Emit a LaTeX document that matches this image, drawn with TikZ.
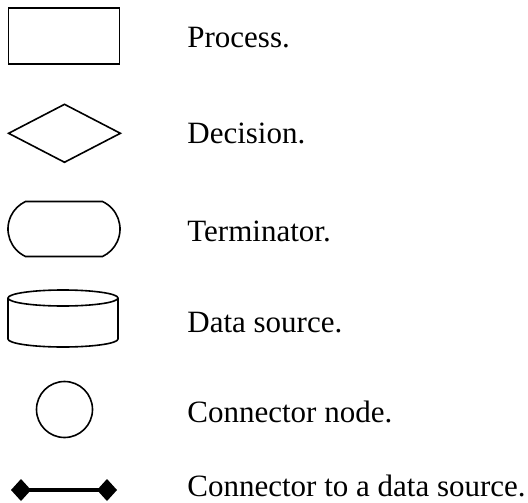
\documentclass[tikz,border=0pt]{standalone}
\usepackage{fontspec}
\setmainfont{Liberation Serif}
\usetikzlibrary{shapes.geometric,shapes.misc,arrows.meta}
\begin{document}
\begin{tikzpicture}
[x=0.5pt,y=-0.5pt,%
 shapestyle/.style={draw,line width=0.8pt,inner sep=0pt},%
 labelstyle/.style={anchor=base west,inner sep=0pt,font=\fontsize{15.5}{18}\selectfont},%
 linkstyle/.style={line width=2pt,{Diamond[length=10pt,width=11pt]}-{Diamond[length=10pt,width=11pt]}}]
\useasboundingbox (0,0) rectangle (528,502);
%% process
\node[shapestyle,rectangle,minimum width=55.5pt,minimum height=28pt] (process) at (64,36) {};
\node[labelstyle] (processtext) at (187,48) {Process.};
%% decision
\node[shapestyle,diamond,minimum width=56.2pt,minimum height=29.3pt] (decision) at (64.5,133.3) {};
\node[labelstyle] (decisiontext) at (187,143) {Decision.};
%% terminator
\node[shapestyle,rounded rectangle,rounded rectangle arc length=130,minimum width=56pt,minimum height=27.5pt] (terminator) at (64,229) {};
\node[labelstyle] (terminatortext) at (187,241) {Terminator.};
%% data source
\draw[shapestyle] (63,298) ellipse [x radius=27.5pt,y radius=4pt];
\draw[shapestyle] (8,298) -- (8,339) arc[start angle=180,end angle=360,x radius=27.5pt,y radius=4pt] -- (118,298);
\node[labelstyle] (datatext) at (187,332) {Data source.};
%% connector node
\node[shapestyle,circle,minimum size=28pt] (connector) at (64.5,409.5) {};
\node[labelstyle] (connectortext) at (187,422) {Connector node.};
%% connector to a data source
\coordinate (linkleft) at (11,490);
\coordinate (linkright) at (117,490);
\draw[linkstyle] (linkleft) -- (linkright);
\node[labelstyle] (linktext) at (187,496) {Connector to a data source.};
\end{tikzpicture}
\end{document}
